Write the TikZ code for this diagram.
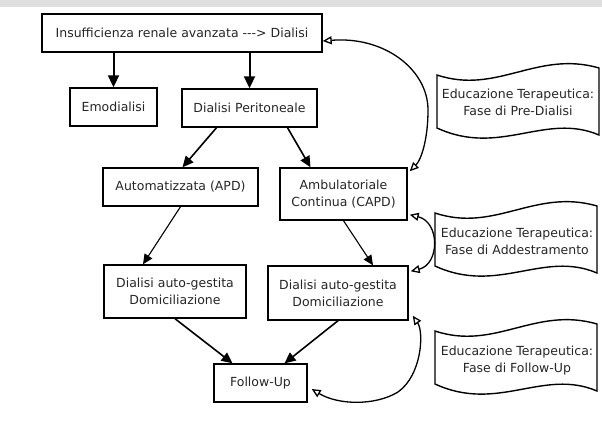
\documentclass[tikz,border=0pt]{standalone}
\usepackage{fontspec}
\setmainfont{DejaVu Sans}
\usetikzlibrary{arrows.meta}
\definecolor{txt}{HTML}{262626}
\tikzset{
  box/.style={draw, line width=1.4pt, align=center, inner sep=0pt,
    font=\fontsize{12.5}{17}\selectfont, text=txt},
  tapetext/.style={align=center, inner sep=0pt,
    font=\fontsize{12.5}{17}\selectfont, text=txt},
  tapeshape/.pic={\draw[line width=1.4pt] (0,0) .. controls (60,20) and (100,-25) .. (162,-7)
      -- (162,60) .. controls (108,37) and (63,82) .. (0,53) -- cycle;},
  bigarrow/.style={line width=2pt, -{Triangle[length=12pt,width=11pt]}},
  midarrow/.style={line width=1.6pt, -{Triangle[length=11pt,width=10pt]}},
  thinarrow/.style={line width=1.1pt, -{Triangle[length=10pt,width=9pt]}},
  loop/.style={line width=1.3pt, {Triangle[open,length=9pt,width=8pt]}-{Triangle[open,length=9pt,width=8pt]}}
}
\begin{document}
\begin{tikzpicture}[x=1pt,y=-1pt]
\useasboundingbox (0,0) rectangle (602,444);
\fill[gray!25] (0,0) rectangle (602,7);

\node[box, minimum width=280pt, minimum height=38pt] (top) at (182,33) {Insufficienza renale avanzata -{}-{}-> Dialisi};
\node[box, minimum width=87pt, minimum height=38pt] (emo) at (113.5,107) {Emodialisi};
\node[box, minimum width=135pt, minimum height=38pt] (perit) at (249.5,108) {Dialisi Peritoneale};
\node[box, minimum width=155pt, minimum height=38pt] (apd) at (180.5,187) {Automatizzata (APD)};
\node[box, minimum width=127pt, minimum height=52pt] (capd) at (343.5,194) {Ambulatoriale\\Continua (CAPD)};
\node[box, minimum width=142pt, minimum height=53pt] (dl) at (175,291.5) {Dialisi auto-gestita\\Domiciliazione};
\node[box, minimum width=140pt, minimum height=54pt] (dr) at (338,293) {Dialisi auto-gestita\\Domiciliazione};
\node[box, minimum width=93pt, minimum height=38pt] (fu) at (260.5,383) {Follow-Up};

\pic at (437,75) {tapeshape};
\pic at (435,213) {tapeshape};
\pic at (435,331) {tapeshape};
\node[tapetext] (t1) at (518,102.5) {Educazione Terapeutica:\\Fase di Pre-Dialisi};
\node[tapetext] (t2) at (517,241.5) {Educazione Terapeutica:\\Fase di Addestramento};
\node[tapetext] (t3) at (517,360.5) {Educazione Terapeutica:\\Fase di Follow-Up};

\draw[bigarrow] (top.south -| emo.north) -- (emo.north);
\draw[bigarrow] (top.south -| perit.north) -- (perit.north);
\draw[midarrow] ([xshift=-33pt]perit.south) -- ([xshift=2pt]apd.north);
\draw[midarrow] ([xshift=38pt]perit.south) -- ([xshift=-33pt]capd.north);
\draw[thinarrow] (apd.south) -- ([xshift=-32pt]dl.north);
\draw[thinarrow] (capd.south) -- ([xshift=35pt]dr.north);
\draw[midarrow] (dl.south) -- ([xshift=-28pt]fu.north);
\draw[midarrow] (dr.south) -- ([xshift=24pt]fu.north);

\draw[loop] ([yshift=-8pt]top.east) .. controls (385,36) and (428,70) .. (428,110)
  .. controls (428,140) and (421,160) .. ([xshift=2pt,yshift=-4pt]capd.north east);
\draw[loop] ([xshift=2pt,yshift=6pt]capd.south east) .. controls (440,222) and (440,264) .. ([xshift=2pt,yshift=-6pt]dr.north east);
\draw[loop] ([xshift=4pt,yshift=5pt]dr.south east) .. controls (424,332) and (422,375) .. (398,392)
  .. controls (375,406) and (338,405) .. ([xshift=4pt,yshift=-6pt]fu.east);
\end{tikzpicture}
\end{document}
